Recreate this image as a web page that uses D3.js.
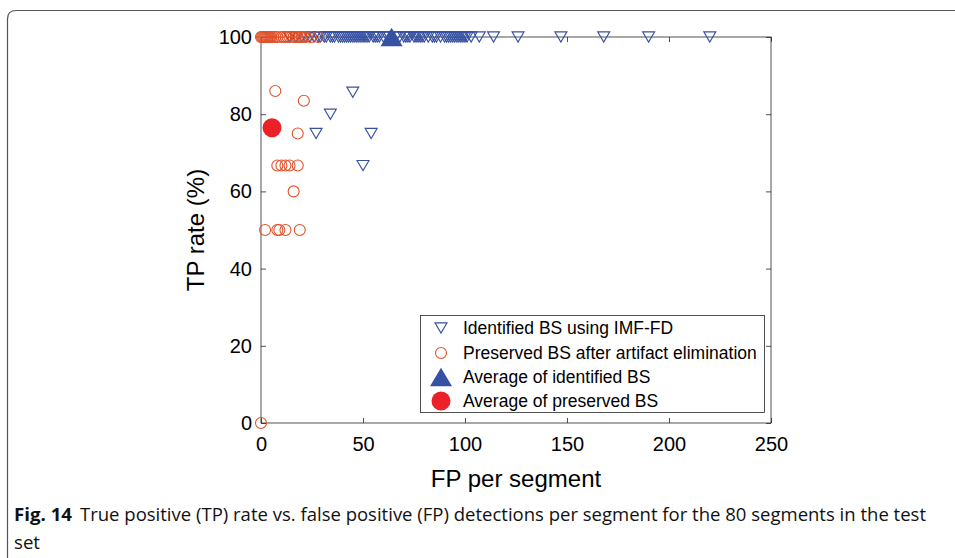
<!DOCTYPE html>
<html>
<head>
<meta charset="utf-8">
<script src="https://cdn.jsdelivr.net/npm/d3@7"></script>
<style>
  body { margin: 0; background: #fff; }
  svg { display: block; }
</style>
</head>
<body>
<div id="chart"></div>
<script>
// FP per segment / TP rate (%)
var identifiedFP = [14, 17, 20, 22, 24, 26, 28, 29, 31, 32,
  34, 35, 36, 38, 39, 40, 41, 42, 43, 44,
  45, 46, 47, 48, 49, 50, 51, 52, 53, 55,
  56, 57, 58, 60, 62, 63, 66, 68, 70, 71,
  72, 73, 75, 76, 77, 78, 79, 80, 82, 84,
  85, 86, 88, 90, 91, 92, 93, 94, 95, 96,
  97, 98, 99, 100, 101, 103, 107, 114, 126, 147,
  168, 190, 220,
  27, 34, 45, 54, 50];
var identifiedTP = [100, 100, 100, 100, 100, 100, 100, 100, 100, 100,
  100, 100, 100, 100, 100, 100, 100, 100, 100, 100,
  100, 100, 100, 100, 100, 100, 100, 100, 100, 100,
  100, 100, 100, 100, 100, 100, 100, 100, 100, 100,
  100, 100, 100, 100, 100, 100, 100, 100, 100, 100,
  100, 100, 100, 100, 100, 100, 100, 100, 100, 100,
  100, 100, 100, 100, 100, 100, 100, 100, 100, 100,
  100, 100, 100,
  75, 80, 85.7, 75, 66.7];

var preservedFP = [0, 0.5, 1, 1.5, 2, 2.5, 3, 3.5, 4, 4.5, 5, 6, 7, 8, 10, 11, 12, 13, 14, 16, 17, 18, 19, 20, 21, 22, 24.5, 28,
  7, 21, 18, 8, 10, 12, 14, 18, 16, 2, 8, 9, 12, 19, 0];
var preservedTP = [100, 100, 100, 100, 100, 100, 100, 100, 100, 100, 100, 100, 100, 100, 100, 100, 100, 100, 100, 100, 100, 100, 100, 100, 100, 100, 100, 100,
  86, 83.5, 75, 66.7, 66.7, 66.7, 66.7, 66.7, 60, 50, 50, 50, 50, 50, 0];

var avgIdentified = [64, 100];
var avgPreserved = [5.4, 76.5];

var xTicks = [0, 50, 100, 150, 200, 250];
var yTicks = [0, 20, 40, 60, 80, 100];

var legendLabels = ["Identified BS using IMF-FD", "Preserved BS after artifact elimination",
  "Average of identified BS", "Average of preserved BS"];

var blue = "#3650a2", orange = "#e0522a", red = "#ec2029";

var width = 955, height = 558;
var svg = d3.select("#chart").append("svg")
  .attr("width", width)
  .attr("height", height)
  .style("font-family", "'Liberation Sans', Arial, sans-serif");

// figure frame with rounded top-left corner
svg.append("path")
  .attr("d", "M7.5,558 L7.5,19 Q7.5,10.5 16,10.5 L955,10.5")
  .attr("fill", "none")
  .attr("stroke", "#555")
  .attr("stroke-width", 1.2);

var x = d3.scaleLinear().domain([0, 250]).range([261, 771]);
var y = d3.scaleLinear().domain([0, 100]).range([423, 37]);

var axisColor = "#262626";

var g = svg.append("g");

// box
g.append("rect")
  .attr("x", x(0)).attr("y", y(100))
  .attr("width", x(250) - x(0)).attr("height", y(0) - y(100))
  .attr("fill", "none").attr("stroke", axisColor).attr("stroke-width", 0.8);

function styleAxis(sel) {
  sel.select(".domain").remove();
  sel.selectAll(".tick line").attr("stroke", axisColor).attr("stroke-width", 0.8);
  sel.selectAll(".tick text").attr("fill", "#000").style("font-size", "20px")
    .style("font-family", "'Liberation Sans', Arial, sans-serif");
}

g.append("g").attr("transform", "translate(0," + y(0) + ")")
  .call(d3.axisBottom(x).tickValues(xTicks).tickSize(-5).tickPadding(14))
  .call(styleAxis);
g.append("g").attr("transform", "translate(0," + y(100) + ")")
  .call(d3.axisTop(x).tickValues(xTicks).tickSize(-5).tickFormat(""))
  .call(styleAxis);
g.append("g").attr("transform", "translate(" + x(0) + ",0)")
  .call(d3.axisLeft(y).tickValues(yTicks).tickSize(-5).tickPadding(9))
  .call(styleAxis);
g.append("g").attr("transform", "translate(" + x(250) + ",0)")
  .call(d3.axisRight(y).tickValues(yTicks).tickSize(-5).tickFormat(""))
  .call(styleAxis);

// axis titles
svg.append("text")
  .attr("x", (x(0) + x(250)) / 2).attr("y", 487)
  .attr("text-anchor", "middle")
  .style("font-size", "24px")
  .text("FP per segment");
svg.append("text")
  .attr("transform", "translate(204," + (y(0) + y(100)) / 2 + ") rotate(-90)")
  .attr("text-anchor", "middle")
  .style("font-size", "24px")
  .text("TP rate (%)");

function downTri(s) { // width s, pointing down
  var h = s * 0.85;
  return "M" + (-s / 2) + "," + (-h / 2) + "L" + (s / 2) + "," + (-h / 2) + "L0," + (h / 2) + "Z";
}
function upTri(s) {
  var h = s * 0.85;
  return "M" + (-s / 2) + "," + (h / 2) + "L" + (s / 2) + "," + (h / 2) + "L0," + (-h / 2) + "Z";
}

var idData = identifiedFP.map(function(d, i) { return {fp: d, tp: identifiedTP[i]}; });
var prData = preservedFP.map(function(d, i) { return {fp: d, tp: preservedTP[i]}; });

g.selectAll(".tri")
  .data(idData)
  .enter().append("path")
  .attr("class", "tri")
  .attr("d", downTri(12))
  .attr("transform", function(d) { return "translate(" + x(d.fp) + "," + y(d.tp) + ")"; })
  .attr("fill", "none")
  .attr("stroke", blue)
  .attr("stroke-width", 1.1);

g.selectAll(".circ")
  .data(prData)
  .enter().append("circle")
  .attr("class", "circ")
  .attr("cx", function(d) { return x(d.fp); })
  .attr("cy", function(d) { return y(d.tp); })
  .attr("r", 5.5)
  .attr("fill", "none")
  .attr("stroke", orange)
  .attr("stroke-width", 1.1);

g.append("path")
  .attr("d", upTri(22))
  .attr("transform", "translate(" + x(avgIdentified[0]) + "," + y(avgIdentified[1]) + ")")
  .attr("fill", blue);

g.append("circle")
  .attr("cx", x(avgPreserved[0])).attr("cy", y(avgPreserved[1]))
  .attr("r", 9.5)
  .attr("fill", red);

// legend
var leg = svg.append("g");
leg.append("rect")
  .attr("x", 420.5).attr("y", 315.5).attr("width", 344).attr("height", 97)
  .attr("fill", "#fff").attr("stroke", axisColor).attr("stroke-width", 0.8);

var legY = [328, 353, 377, 401];
var legMarks = [
  function(s) { s.append("path").attr("d", downTri(12)).attr("fill", "none").attr("stroke", blue).attr("stroke-width", 1.1); },
  function(s) { s.append("circle").attr("r", 5.5).attr("fill", "none").attr("stroke", orange).attr("stroke-width", 1.1); },
  function(s) { s.append("path").attr("d", upTri(22)).attr("fill", blue); },
  function(s) { s.append("circle").attr("r", 9.5).attr("fill", red); }
];
legendLabels.forEach(function(lbl, i) {
  var row = leg.append("g").attr("transform", "translate(441," + legY[i] + ")");
  legMarks[i](row);
  row.append("text")
    .attr("x", 22).attr("y", 6)
    .style("font-size", "17.5px")
    .text(lbl);
});

// caption
var capFont = "'Open Sans', 'Noto Sans', sans-serif";
svg.append("text")
  .attr("x", 14).attr("y", 521)
  .style("font-family", capFont)
  .style("font-size", "18px")
  .style("font-weight", "bold")
  .attr("fill", "#111")
  .attr("textLength", 58).attr("lengthAdjust", "spacingAndGlyphs")
  .text("Fig. 14");
svg.append("text")
  .attr("x", 80).attr("y", 521)
  .style("font-family", capFont)
  .style("font-size", "18px")
  .attr("fill", "#111")
  .attr("textLength", 846).attr("lengthAdjust", "spacingAndGlyphs")
  .text("True positive (TP) rate vs. false positive (FP) detections per segment for the 80 segments in the test");
svg.append("text")
  .attr("x", 14).attr("y", 549)
  .style("font-family", capFont)
  .style("font-size", "18px")
  .attr("fill", "#111")
  .attr("textLength", 26).attr("lengthAdjust", "spacingAndGlyphs")
  .text("set");
</script>
</body>
</html>
